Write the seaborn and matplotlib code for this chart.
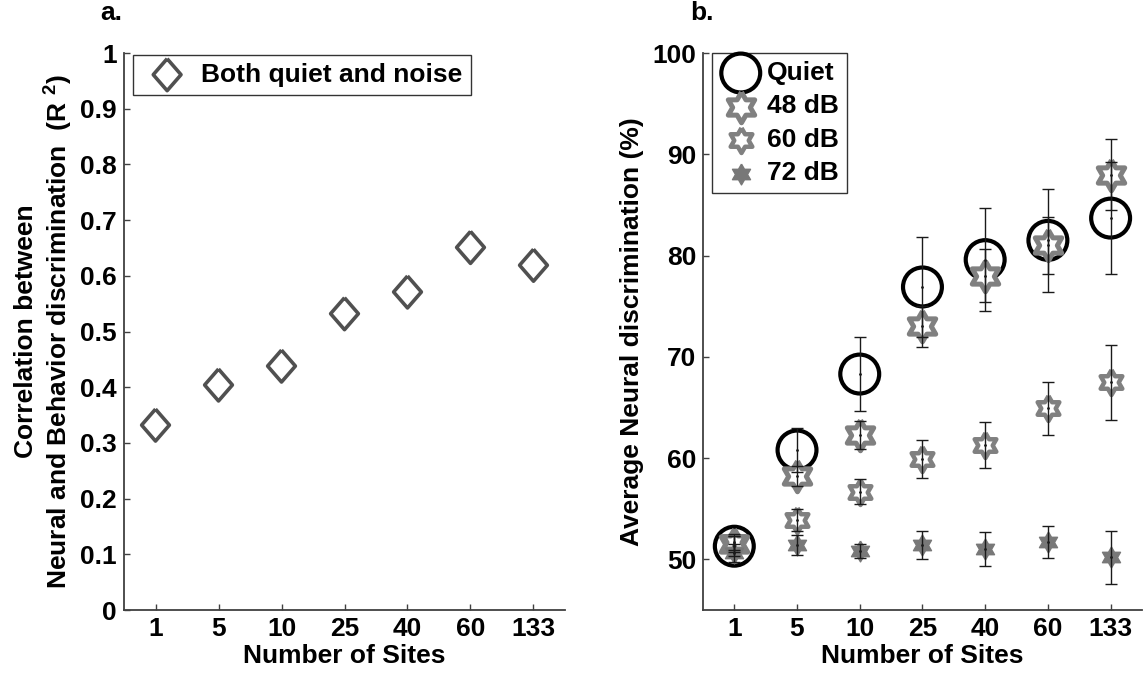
import numpy as np
import pandas as pd
import matplotlib
matplotlib.use("Agg")
import matplotlib.pyplot as plt
import seaborn as sns

# ---- data ----
sites = ["1", "5", "10", "25", "40", "60", "133"]

r2_both = [0.332, 0.404, 0.438, 0.532, 0.571, 0.651, 0.619]

quiet = [51.3, 60.8, 68.3, 76.9, 79.6, 81.5, 83.7]
quiet_err = [1.0, 2.2, 3.65, 4.9, 5.1, 5.1, 5.5]

db48 = [51.5, 58.2, 62.3, 73.0, 78.0, 81.0, 88.0]
db48_err = [0.8, 1.0, 1.4, 2.0, 2.6, 2.8, 3.5]

db60 = [51.7, 53.9, 56.7, 59.9, 61.3, 64.9, 67.5]
db60_err = [0.8, 1.1, 1.2, 1.9, 2.3, 2.6, 3.7]

db72 = [50.6, 51.4, 50.8, 51.4, 51.0, 51.7, 50.2]
db72_err = [0.9, 1.0, 0.7, 1.4, 1.7, 1.6, 2.6]

# ---- style ----
sns.set_theme(style="white")
plt.rcParams["font.family"] = ["Liberation Sans", "DejaVu Sans"]
plt.rcParams["font.weight"] = "bold"
plt.rcParams["axes.labelweight"] = "bold"
plt.rcParams["text.color"] = "black"
plt.rcParams["axes.labelcolor"] = "black"
plt.rcParams["xtick.color"] = "black"
plt.rcParams["ytick.color"] = "black"
plt.rcParams["mathtext.fontset"] = "custom"
plt.rcParams["mathtext.bf"] = "Liberation Sans:bold"
plt.rcParams["mathtext.rm"] = "Liberation Sans:bold"
plt.rcParams["mathtext.default"] = "bf"

# closed hexagram and tall diamond marker outlines
ang = np.deg2rad(90 + 30 * np.arange(13))
rad = np.where(np.arange(13) % 2 == 0, 1.0, 1 / np.sqrt(3))
hexagram = list(zip(rad * np.cos(ang), rad * np.sin(ang)))
diamond = [(0, 1), (0.87, 0), (0, -1), (-0.87, 0), (0, 1)]

fig = plt.figure(figsize=(11.43, 6.73), dpi=100)
ax_a = fig.add_axes([0.1085, 0.0936, 0.3858, 0.8276])
ax_b = fig.add_axes([0.6150, 0.0936, 0.3841, 0.8276])

xpos = np.arange(len(sites))
spine_col = "#404040"
fs = 19

for ax in (ax_a, ax_b):
    for s in ("top", "right"):
        ax.spines[s].set_visible(False)
    for s in ("left", "bottom"):
        ax.spines[s].set_color(spine_col)
        ax.spines[s].set_linewidth(1.3)
    ax.tick_params(axis="both", direction="in", length=4, width=1,
                   color=spine_col, labelcolor="black", labelsize=fs,
                   left=True, bottom=True)
    ax.tick_params(axis="x", pad=5)
    ax.tick_params(axis="y", pad=5)

# ---- panel a ----
df_a = pd.DataFrame({"pos": xpos, "r2": r2_both})
sns.scatterplot(data=df_a, x="pos", y="r2", ax=ax_a, marker=diamond, s=23 ** 2,
                facecolor="none", edgecolor="#505050", linewidth=2.6,
                label="Both quiet and noise", zorder=3)
ax_a.set_ylim(0, 1)
ax_a.set_yticks(np.round(np.arange(0, 1.01, 0.1), 1))
ax_a.set_yticklabels(["0"] + [f"{v:.1f}" for v in np.arange(0.1, 0.95, 0.1)] + ["1"])
ax_a.set_ylabel("Correlation between\nNeural and Behavior discrimination  (R $^{2}$)",
                fontsize=fs, fontweight="bold", labelpad=4, linespacing=1.2)
leg_a = ax_a.legend(loc="upper left", bbox_to_anchor=(0.02, 0.997), frameon=True,
                    fancybox=False, edgecolor="black", fontsize=fs,
                    handletextpad=0.3, borderpad=0.3, borderaxespad=0,
                    scatterpoints=1)
leg_a.get_frame().set_linewidth(1.0)

# ---- panel b ----
series = [
    ("Quiet", quiet, quiet_err, "o", 28, "none", "black", 3.0),
    ("48 dB", db48, db48_err, hexagram, 22, "white", "#808080", 3.6),
    ("60 dB", db60, db60_err, hexagram, 18, "white", "#808080", 3.2),
    ("72 dB", db72, db72_err, hexagram, 15, "#787878", "#787878", 1.0),
]
for i, (name, vals, errs, mk, ms, fc, ec, lw) in enumerate(series):
    df = pd.DataFrame({"pos": xpos, "val": vals})
    sns.scatterplot(data=df, x="pos", y="val", ax=ax_b, marker=mk, s=ms ** 2,
                    facecolor=fc, edgecolor=ec, linewidth=lw, label=name,
                    zorder=3 + i)
for name, vals, errs, *_ in series:
    ax_b.errorbar(xpos, vals, yerr=errs, fmt=".", color="#1a1a1a", markersize=2,
                  elinewidth=1, capsize=4.5, capthick=1, zorder=10)

ax_b.set_ylim(45, 100)
ax_b.set_yticks([50, 60, 70, 80, 90, 100])
ax_b.set_ylabel("Average Neural discrimination (%)", fontsize=fs,
                fontweight="bold", labelpad=6)
leg_b = ax_b.legend(loc="upper left", bbox_to_anchor=(0.02, 1.0), frameon=True,
                    fancybox=False, edgecolor="black", fontsize=fs,
                    handletextpad=0.2, borderpad=0.3, borderaxespad=0,
                    labelspacing=0.36, scatterpoints=1, handlelength=1.6)
leg_b.get_frame().set_linewidth(1.0)

for ax in (ax_a, ax_b):
    ax.set_xlim(-0.5, len(sites) - 0.5)
    ax.set_xticks(xpos)
    ax.set_xticklabels(sites)
    ax.set_xlabel("Number of Sites", fontsize=fs, fontweight="bold", labelpad=2)

fig.text(100 / 1143, 1 - 13 / 673, "a.", fontsize=fs, fontweight="bold",
         ha="left", va="center")
fig.text(690 / 1143, 1 - 13 / 673, "b.", fontsize=fs, fontweight="bold",
         ha="left", va="center")

fig.savefig("out.png", dpi=100, facecolor="white")
